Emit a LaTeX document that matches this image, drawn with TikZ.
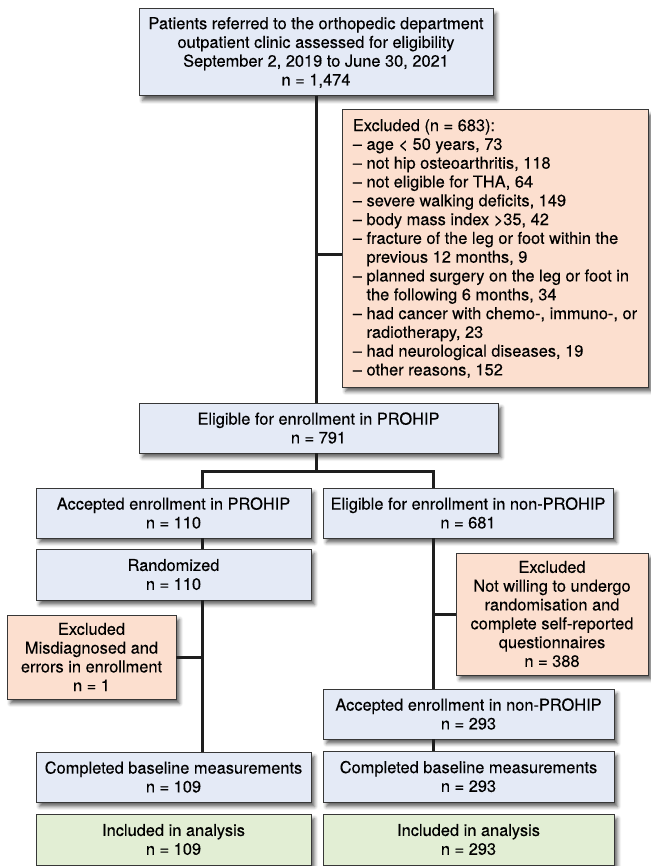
\documentclass[tikz,border=0pt]{standalone}
\usepackage{fontspec}
\setmainfont{TeX Gyre Heros}[FakeBold=0.25]
\usetikzlibrary{shadows.blur}
\definecolor{bluebox}{RGB}{228,234,246}
\definecolor{peachbox}{RGB}{252,223,207}
\definecolor{greenbox}{RGB}{226,238,212}
\definecolor{boxline}{RGB}{55,55,55}
\definecolor{lineclr}{RGB}{30,30,30}
\begin{document}
\begin{tikzpicture}[x=1pt,y=-1pt,
  box/.style={draw=boxline, line width=1pt, inner sep=0pt, outer sep=0pt, align=center,
    font=\fontsize{16.4}{18.8}\selectfont,
    blur shadow={shadow xshift=3.5pt, shadow yshift=-4.5pt, shadow blur radius=3.5pt, shadow opacity=60}},
  bbox/.style={box, fill=bluebox},
  pbox/.style={box, fill=peachbox},
  gbox/.style={box, fill=greenbox},
  conn/.style={draw=lineclr, line width=3pt}
]
\useasboundingbox (0,0) rectangle (650,866);

\node[bbox, minimum width=354pt, minimum height=87pt] (top) at (316,52.5)
  {Patients referred to the orthopedic department\\outpatient clinic assessed for eligibility\\September 2, 2019 to June 30, 2021\\n = 1,474};

\node[pbox, minimum width=306pt, minimum height=277pt, align=left] (excl1) at (495,248.5)
  {Excluded (n = 683):\\
   – age < 50 years, 73\\
   – not hip osteoarthritis, 118\\
   – not eligible for THA, 64\\
   – severe walking deficits, 149\\
   – body mass index >35, 42\\
   – fracture of the leg or foot within the\\
   \phantom{– }previous 12 months, 9\\
   – planned surgery on the leg or foot in\\
   \phantom{– }the following 6 months, 34\\
   – had cancer with chemo-, immuno-, or\\
   \phantom{– }radiotherapy, 23\\
   – had neurological diseases, 19\\
   – other reasons, 152};

\node[bbox, minimum width=359pt, minimum height=50pt] (elig) at (318.5,428)
  {Eligible for enrollment in PROHIP\\n = 791};

\node[bbox, minimum width=275pt, minimum height=50pt] (acc1) at (173.5,513)
  {Accepted enrollment in PROHIP\\n = 110};
\node[bbox, minimum width=290pt, minimum height=50pt] (elig2) at (468,513)
  {Eligible for enrollment in non-PROHIP\\n = 681};

\node[bbox, minimum width=275pt, minimum height=51pt] (rand) at (173.5,574.5)
  {Randomized\\n = 110};

\node[pbox, minimum width=169pt, minimum height=84pt] (excl2) at (91.5,657)
  {Excluded\\Misdiagnosed and\\errors in enrollment\\n = 1};

\node[pbox, minimum width=192pt, minimum height=122pt] (excl3) at (552,614)
  {Excluded\\Not willing to undergo\\randomisation and\\complete self-reported\\questionnaires\\n = 388};

\node[bbox, minimum width=291pt, minimum height=50pt] (acc2) at (468.5,714)
  {Accepted enrollment in non-PROHIP\\n = 293};

\node[bbox, minimum width=275pt, minimum height=50pt] (comp1) at (173.5,777)
  {Completed baseline measurements\\n = 109};
\node[bbox, minimum width=291pt, minimum height=51pt] (comp2) at (468.5,776.5)
  {Completed baseline measurements\\n = 293};

\node[gbox, minimum width=275pt, minimum height=51pt] (inc1) at (173.5,839.5)
  {Included in analysis\\n = 109};
\node[gbox, minimum width=291pt, minimum height=51pt] (inc2) at (468.5,839.5)
  {Included in analysis\\n = 293};

% connectors
\coordinate (b1) at (316,255);
\draw[conn] (top.south) -- (top.south |- elig.north);
\draw[conn] (b1) -- (b1 -| excl1.west);

\coordinate (sL) at (202,471);
\coordinate (sR) at (433,471);
\coordinate (sM) at (316,471);
\draw[conn] (sM |- elig.south) -- (sM);
\draw[conn] (sL |- acc1.north) -- (sL) -- (sR) -- (sR |- elig2.north);

\draw[conn] (sL |- acc1.south) -- (sL |- rand.north);
\coordinate (b2) at (202,657);
\draw[conn] (sL |- rand.south) -- (sL |- comp1.north);
\draw[conn] (b2) -- (b2 -| excl2.east);

\coordinate (b3) at (433,614);
\draw[conn] (sR |- elig2.south) -- (sR |- acc2.north);
\draw[conn] (b3) -- (b3 -| excl3.west);
\draw[conn] (sR |- acc2.south) -- (sR |- comp2.north);
\end{tikzpicture}
\end{document}
